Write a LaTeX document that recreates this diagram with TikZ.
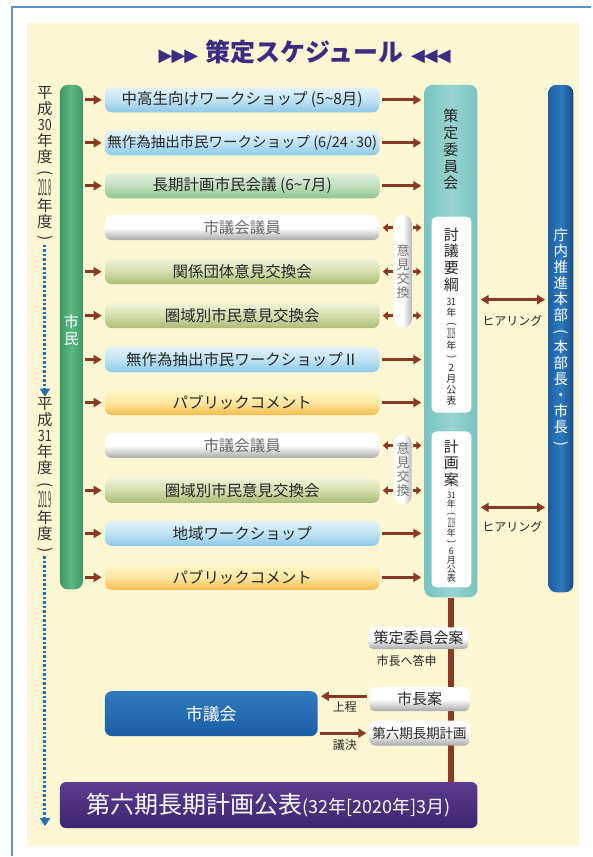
\documentclass[tikz,border=0pt]{standalone}
\usepackage{fontspec}
\usepackage{graphicx}
\setmainfont{Noto Sans CJK JP}
\newfontfamily\symfont{DejaVu Sans}
\usetikzlibrary{arrows.meta, calc, backgrounds, shapes, positioning}

\definecolor{CreamBg}{HTML}{FCF7D2}
\definecolor{FrameBlue}{HTML}{5A8FD0}
\definecolor{TitlePurple}{HTML}{3C2B80}
\definecolor{ArrowBrown}{HTML}{8A3A22}
\definecolor{YearBlue}{HTML}{1F6FB5}
\definecolor{CitizenGreen}{HTML}{3A9A62}
\definecolor{CitizenLight}{HTML}{5DB784}
\definecolor{CommitteeTeal}{HTML}{79C3C0}
\definecolor{CommitteeLight}{HTML}{98D4D1}
\definecolor{HqBlue}{HTML}{1B5FA5}
\definecolor{HqLight}{HTML}{3079BE}
\definecolor{PubPurple}{HTML}{3D2470}
\definecolor{PubLight}{HTML}{5A3E8E}
\definecolor{SkyTop}{HTML}{E2F3FB}
\definecolor{SkyBot}{HTML}{8CC9E8}
\definecolor{LeafTop}{HTML}{E2F1DE}
\definecolor{LeafBot}{HTML}{8FC48E}
\definecolor{OliveTop}{HTML}{F0F3D6}
\definecolor{OliveBot}{HTML}{A9BD72}
\definecolor{SunTop}{HTML}{FFF8C6}
\definecolor{SunBot}{HTML}{F5BC4E}
\definecolor{SnowBot}{HTML}{A8A8A8}

\newcommand{\tcy}[1]{\resizebox{0.9em}{\height}{#1}}
\newcommand{\tcyear}[1]{\resizebox{0.8em}{1.45\height}{#1}}
\newcommand{\vopen}{\rotatebox[origin=c]{-90}{(}}
\newcommand{\vclose}{\rotatebox[origin=c]{-90}{)}}

\begin{document}
\begin{tikzpicture}[x=1pt, y=-1pt,
	rowbox/.style={rounded corners=7pt, minimum width=275pt, minimum height=25pt, inner sep=0pt, text=black!85, font=\fontsize{15.5}{17}\selectfont},
	skybox/.style={rowbox, top color=SkyTop, bottom color=SkyBot, middle color=SkyTop!60!SkyBot},
	leafbox/.style={rowbox, top color=LeafTop, bottom color=LeafBot, middle color=LeafTop!60!LeafBot},
	olivebox/.style={rowbox, top color=OliveTop, bottom color=OliveBot, middle color=OliveTop!60!OliveBot},
	sunbox/.style={rowbox, top color=SunTop, bottom color=SunBot, middle color=SunTop!70!SunBot},
	snowrow/.style={rowbox, top color=white, bottom color=SnowBot, middle color=white, text=black!60},
	snowbox/.style={rounded corners=5pt, inner sep=0pt, top color=white, bottom color=SnowBot, middle color=white, text=black!85, font=\fontsize{15}{17}\selectfont},
	pillar/.style={rounded corners=8pt, inner sep=0pt},
	pill/.style={rounded corners=8pt, minimum width=17pt, inner sep=0pt, left color=white, right color=SnowBot!80, middle color=white, text=black!55, align=center, font=\fontsize{13}{14}\selectfont},
	notebox/.style={fill=white, rounded corners=5pt, minimum width=40pt, inner sep=0pt},
	vtext/.style={align=center, inner sep=0pt, text=black!85, font=\fontsize{15}{16.8}\selectfont},
	vdate/.style={align=center, inner sep=0pt, text=black!85, font=\fontsize{10}{11}\selectfont},
	yeartext/.style={align=center, inner sep=1pt, text=black!80, font=\fontsize{15.5}{16}\selectfont},
	smalllabel/.style={inner sep=1pt, text=black!85, font=\fontsize{12}{14}\selectfont},
	flow/.style={draw=ArrowBrown, line width=3pt, shorten <=2pt, shorten >=3pt, -{Triangle[length=8pt, width=9pt]}},
	shortflow/.style={draw=ArrowBrown, line width=2.5pt, shorten <=1pt, shorten >=3pt, -{Triangle[length=5pt, width=8pt]}},
	hearing/.style={draw=ArrowBrown, line width=3pt, shorten <=3pt, shorten >=3pt, {Triangle[length=8pt, width=9pt]}-{Triangle[length=8pt, width=9pt]}},
	yearline/.style={draw=YearBlue, line width=3pt, dash pattern=on 2.5pt off 2pt, -{Triangle[length=8pt, width=10pt]}},
	trunk/.style={draw=ArrowBrown, line width=6pt}]

		\fill[white] (0,0) rectangle (592,857);
		\fill[CreamBg] (27,23) rectangle (580,847);
		\draw[FrameBlue, line width=2pt] (12,857) -- (12,7) -- (592,7);
		\useasboundingbox (0,0) rectangle (592,857);

		\node (Title) at (305,52) [text=TitlePurple, font=\fontsize{25}{28}\selectfont\bfseries]{{\symfont\fontsize{18}{18}\selectfont ▶\kern-1pt▶\kern-1pt▶}\hspace{0.3em}策定スケジュール\hspace{0.3em}{\symfont\fontsize{18}{18}\selectfont ◀\kern-1pt◀\kern-1pt◀}};

		\node (YearThirty) at (45,165) [yeartext]{平\\成\\\tcy{30}\\年\\度\\\vopen\\\tcyear{2018}\\年\\度\\\vclose};
		\node (YearThirtyOne) at (45,477) [yeartext]{平\\成\\\tcy{31}\\年\\度\\\vopen\\\tcyear{2019}\\年\\度\\\vclose};
		\coordinate (YearEnd) at (45,827);
		\draw[yearline] (YearThirty.south) -- (YearThirtyOne.north);
		\draw[yearline] (YearThirtyOne.south) -- (YearEnd);

		\node (Citizens) at (71.5,337.5) [pillar, minimum width=23pt, minimum height=505pt, left color=CitizenGreen, right color=CitizenGreen, middle color=CitizenLight]{};
		\node (CitizensName) at ($(Citizens)+(0,-7)$) [vtext, text=white]{市\\民};

		\node (Committee) at (451.5,341.5) [pillar, minimum width=53pt, minimum height=513pt, left color=CommitteeTeal, right color=CommitteeTeal, middle color=CommitteeLight]{};
		\node (CommitteeName) at ($(Committee.north)+(0,65)$) [vtext]{策\\定\\委\\員\\会};
		\node (OutlineBox) at (452,315) [notebox, minimum height=196pt]{};
		\node (OutlineTitle) at ($(OutlineBox.north)+(0,43)$) [vtext]{討\\議\\要\\綱};
		\node (OutlineDate) at ($(OutlineBox.north)+(0,135)$) [vdate]{\tcy{31}\\年\\\vopen\\\tcyear{2019}\\年\\\vclose\\2\\月\\公\\表};
		\node (DraftBox) at (452,510) [notebox, minimum height=156pt]{};
		\node (DraftTitle) at ($(DraftBox.north)+(0,32)$) [vtext]{計\\画\\案};
		\node (DraftDate) at ($(DraftBox.north)+(0,106)$) [vdate, font=\fontsize{9}{9}\selectfont]{\tcy{31}\\年\\\vopen\\\tcyear{2019}\\年\\\vclose\\6\\月\\公\\表};

		\node (Headquarters) at (561.5,339) [pillar, minimum width=25pt, minimum height=508pt, left color=HqBlue, right color=HqBlue!80!black, middle color=HqLight]{};
		\node (HeadquartersName) at (Headquarters) [vtext, text=white, font=\fontsize{14.5}{16}\selectfont]{庁\\内\\推\\進\\本\\部\\\vopen\\本\\部\\長\\・\\市\\長\\\vclose};

		\coordinate (HearingOutline) at ([yshift=15pt]OutlineBox.center);
		\draw[hearing] (Committee.east |- HearingOutline) -- (Headquarters.west |- HearingOutline);
		\node (HearingOutlineLabel) at ($(HearingOutline)+(61,21)$) [smalllabel]{ヒアリング};
		\coordinate (HearingDraft) at ([yshift=2pt]DraftBox.center);
		\draw[hearing] (Committee.east |- HearingDraft) -- (Headquarters.west |- HearingDraft);
		\node (HearingDraftLabel) at ($(HearingDraft)+(61,19)$) [smalllabel]{ヒアリング};

		\node (YouthWorkshop) at (242.5,100) [skybox]{中高生向けワークショップ (5\textasciitilde8月)};
		\draw[flow] (Citizens.east |- YouthWorkshop) -- (YouthWorkshop.west);
		\draw[flow] (YouthWorkshop.east) -- (Committee.west |- YouthWorkshop);
		\node (RandomWorkshop) at ($(YouthWorkshop)+(0,43)$) [skybox, font=\fontsize{14.5}{16}\selectfont]{無作為抽出市民ワークショップ (6/24·30)};
		\draw[flow] (Citizens.east |- RandomWorkshop) -- (RandomWorkshop.west);
		\draw[flow] (RandomWorkshop.east) -- (Committee.west |- RandomWorkshop);
		\node (CitizenMeeting) at ($(RandomWorkshop)+(0,43)$) [leafbox]{長期計画市民会議 (6\textasciitilde7月)};
		\draw[flow] (Citizens.east |- CitizenMeeting) -- (CitizenMeeting.west);
		\draw[flow] (CitizenMeeting.east) -- (Committee.west |- CitizenMeeting);

		\node (ExchangePill) at (403.5,271.5) [pill, minimum height=113pt]{意\\見\\交\\換};
		\node (Councilors) at ($(CitizenMeeting)+(0,42)$) [snowrow]{市議会議員};
		\draw[shortflow] (ExchangePill.west |- Councilors) -- (Councilors.east);
		\draw[shortflow] (ExchangePill.east |- Councilors) -- (Committee.west |- Councilors);
		\node (GroupExchange) at ($(Councilors)+(0,44)$) [olivebox]{関係団体意見交換会};
		\draw[flow] (Citizens.east |- GroupExchange) -- (GroupExchange.west);
		\draw[shortflow] (ExchangePill.west |- GroupExchange) -- (GroupExchange.east);
		\draw[shortflow] (ExchangePill.east |- GroupExchange) -- (Committee.west |- GroupExchange);
		\node (AreaExchange) at ($(GroupExchange)+(0,44)$) [olivebox]{圏域別市民意見交換会};
		\draw[flow] (Citizens.east |- AreaExchange) -- (AreaExchange.west);
		\draw[shortflow] (ExchangePill.west |- AreaExchange) -- (AreaExchange.east);
		\draw[shortflow] (ExchangePill.east |- AreaExchange) -- (Committee.west |- AreaExchange);
		\node (RandomWorkshopII) at ($(AreaExchange)+(0,44)$) [skybox]{無作為抽出市民ワークショップⅡ};
		\draw[flow] (Citizens.east |- RandomWorkshopII) -- (RandomWorkshopII.west);
		\draw[flow] (RandomWorkshopII.east) -- (Committee.west |- RandomWorkshopII);
		\node (PublicComment) at ($(RandomWorkshopII)+(0,43)$) [sunbox]{パブリックコメント};
		\draw[flow] (Citizens.east |- PublicComment) -- (PublicComment.west);
		\draw[flow] (PublicComment.east) -- (Committee.west |- PublicComment);

		\node (ExchangePillII) at (403.5,470) [pill, minimum height=70pt]{意\\見\\交\\換};
		\node (CouncilorsII) at ($(PublicComment)+(0,43)$) [snowrow]{市議会議員};
		\draw[shortflow] (ExchangePillII.west |- CouncilorsII) -- (CouncilorsII.east);
		\draw[shortflow] (ExchangePillII.east |- CouncilorsII) -- (Committee.west |- CouncilorsII);
		\node (AreaExchangeII) at ($(CouncilorsII)+(0,45)$) [olivebox]{圏域別市民意見交換会};
		\draw[flow] (Citizens.east |- AreaExchangeII) -- (AreaExchangeII.west);
		\draw[shortflow] (ExchangePillII.west |- AreaExchangeII) -- (AreaExchangeII.east);
		\draw[shortflow] (ExchangePillII.east |- AreaExchangeII) -- (Committee.west |- AreaExchangeII);
		\node (LocalWorkshop) at ($(AreaExchangeII)+(0,43)$) [skybox]{地域ワークショップ};
		\draw[flow] (Citizens.east |- LocalWorkshop) -- (LocalWorkshop.west);
		\draw[flow] (LocalWorkshop.east) -- (Committee.west |- LocalWorkshop);
		\node (PublicCommentII) at ($(LocalWorkshop)+(0,44)$) [sunbox]{パブリックコメント};
		\draw[flow] (Citizens.east |- PublicCommentII) -- (PublicCommentII.west);
		\draw[flow] (PublicCommentII.east) -- (Committee.west |- PublicCommentII);

		\node (Publication) at (269,806) [rounded corners=6pt, minimum width=418pt, minimum height=46pt, top color=PubLight, bottom color=PubPurple, text=white]{{\fontsize{24}{26}\selectfont 第六期長期計画公表}{\fontsize{18}{20}\selectfont (32年[2020年]3月)}};
		\draw[trunk] (Committee.south) -- (Committee.south |- Publication.north);

		\node (CommitteeDraft) at (419,639) [snowbox, minimum width=100pt, minimum height=22pt]{策定委員会案};
		\node (ReportLabel) at ($(CommitteeDraft)+(-12,23)$) [smalllabel]{市長へ答申};
		\node (MayorDraft) at ($(CommitteeDraft)+(1,61)$) [snowbox, minimum width=100pt, minimum height=24pt]{市長案};
		\node (SixthPlan) at ($(MayorDraft)+(0,34)$) [snowbox, minimum width=100pt, minimum height=25pt, font=\fontsize{13.5}{15}\selectfont]{第六期長期計画};
		\node (CityCouncil) at (211.5,714.5) [rounded corners=7pt, minimum width=213pt, minimum height=45pt, top color=HqLight, bottom color=HqBlue, text=white, font=\fontsize{17}{19}\selectfont]{市議会};
		\coordinate (SubmitStart) at ([yshift=3pt]MayorDraft.west);
		\draw[flow] (SubmitStart) -- (CityCouncil.east |- SubmitStart);
		\node (SubmitLabel) at ($(CityCouncil.east)+(27,-7)$) [smalllabel]{上程};
		\draw[flow] (CityCouncil.east |- SixthPlan.west) -- (SixthPlan.west);
		\node (VoteLabel) at ($(CityCouncil.east)+(27,31)$) [smalllabel]{議決};

		%\draw[flow] (.east) -- (.west);
\end{tikzpicture}
\end{document}
